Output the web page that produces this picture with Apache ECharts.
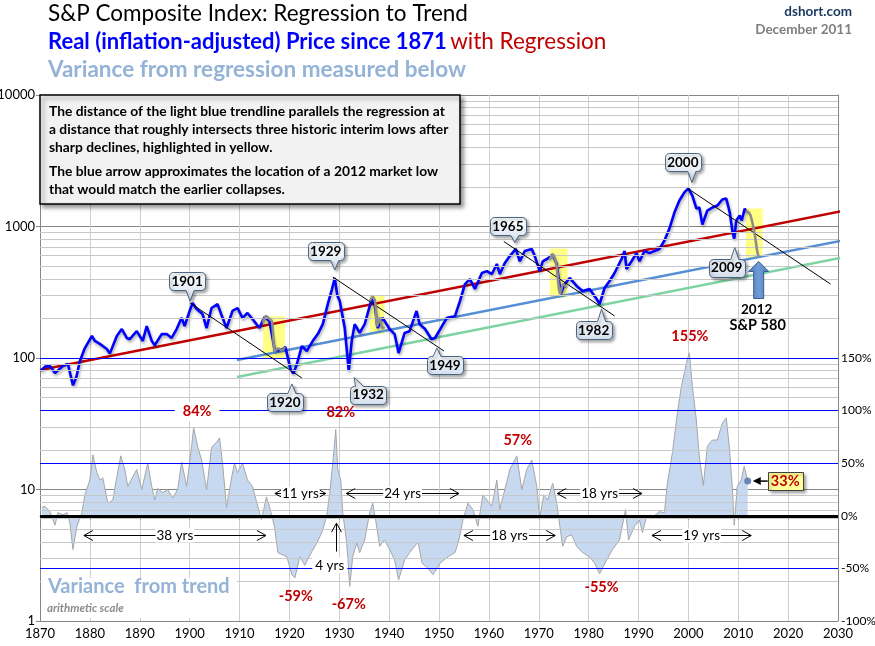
<!DOCTYPE html>
<html>
<head>
<meta charset="utf-8">
<script src="https://cdn.jsdelivr.net/npm/echarts@6/dist/echarts.min.js"></script>
<style>
html, body { margin: 0; padding: 0; background: #fff; }
#chart { width: 875px; height: 646px; }
</style>
</head>
<body>
<div id="chart"></div>
<script>
// real price (log scale, left axis)
const priceYears = [1870.2, 1871, 1872, 1873, 1874.6, 1875.6, 1876.6, 1877.3, 1878, 1879, 1880.4, 1881, 1882, 1883.4, 1884, 1885.4, 1886.4, 1887.4, 1888, 1889.4,
  1890.6, 1891.4, 1892.4, 1893, 1894.4, 1895.4, 1896.4, 1897.4, 1898.4, 1899, 1900, 1900.6, 1901.4, 1902.6, 1903.4, 1904.4, 1905.6, 1906.6, 1907.4, 1908.6,
  1909.6, 1910.6, 1911.6, 1912.6, 1914, 1915, 1916, 1917.1, 1918.7, 1919.2, 1920.2, 1920.8, 1921.5, 1922.5, 1923.5, 1924.7, 1925.7, 1926.7, 1927.7, 1928.5,
  1929.1, 1929.6, 1930.1, 1931.1, 1931.9, 1932.5, 1933.1, 1934.1, 1935.1, 1936.5, 1937.1, 1937.7, 1938.7, 1940.1, 1941.1, 1941.9, 1943.1, 1944.1, 1945.5, 1946.1,
  1947.2, 1948.5, 1949.2, 1950.6, 1951.6, 1953.2, 1954.2, 1955.2, 1956.2, 1957.2, 1958.6, 1959.6, 1960.6, 1961.6, 1962.2, 1963.2, 1964.2, 1965.4, 1966.2, 1967.2,
  1968.6, 1969.2, 1970.2, 1970.8, 1971.8, 1972.8, 1973.6, 1974.4, 1975.2, 1976.2, 1977.6, 1978.8, 1980.2, 1981.6, 1982.2, 1983.2, 1984.2, 1985.2, 1986.6, 1987.2,
  1987.6, 1988.6, 1989.6, 1990.2, 1991.2, 1992.2, 1993.2, 1994.2, 1995.2, 1996.2, 1997.2, 1998.2, 1999.2, 2000, 2000.8, 2001.6, 2002.2, 2002.8, 2003.8, 2004.8,
  2005.8, 2006.8, 2007.6, 2008.3, 2008.9, 2009.2, 2009.6, 2010.3, 2010.7, 2011.3, 2011.7];
const priceValues = [80, 86, 87, 77, 87, 90, 62, 72, 95, 119, 147, 135, 128, 117, 108, 147, 166, 142, 139, 160,
  135, 175, 135, 125, 152, 152, 142, 166, 202, 175, 228, 262, 236, 216, 169, 240, 257, 202, 169, 228,
  240, 202, 220, 198, 169, 205, 191, 113, 117, 121, 83, 76, 90, 123, 113, 135, 152, 181, 257, 330,
  406, 300, 271, 169, 80, 135, 181, 155, 181, 281, 257, 169, 202, 166, 152, 109, 155, 160, 228, 181,
  166, 139, 142, 175, 202, 208, 271, 365, 398, 335, 443, 458, 435, 519, 435, 527, 596, 675, 544, 651,
  675, 596, 458, 544, 571, 611, 519, 307, 365, 406, 353, 323, 335, 281, 257, 341, 385, 443, 566, 651,
  475, 544, 627, 544, 651, 627, 651, 675, 783, 965, 1277, 1576, 1816, 1951, 1720, 1371, 1393, 1035, 1323, 1393,
  1443, 1604, 1630, 1277, 885, 810, 1111, 1212, 1111, 1371, 1277];

// variance from regression, percent (right axis)
const varianceYears = [1870.4, 1871, 1872, 1873, 1873.6, 1874.6, 1875.4, 1876, 1876.6, 1877.4, 1878.4, 1879, 1880, 1880.6, 1881.4, 1882, 1882.6, 1883.6, 1884.6, 1885.4,
  1886.2, 1887, 1887.6, 1888.6, 1889.4, 1890.4, 1891.6, 1892.4, 1893, 1893.6, 1894.6, 1895.6, 1896.6, 1897.6, 1898.4, 1899.4, 1900.4, 1900.8, 1901.6, 1902.4,
  1903.4, 1904.4, 1905.4, 1906, 1906.6, 1907.4, 1908.4, 1909, 1909.6, 1910.6, 1911.6, 1912.6, 1913.6, 1914.4, 1915.4, 1916, 1917, 1917.7, 1919.5, 1920.5,
  1921.1, 1922.1, 1923.1, 1924.5, 1925.5, 1926.5, 1927.5, 1928.1, 1928.7, 1929.3, 1929.7, 1930.3, 1930.7, 1931.5, 1932.1, 1932.7, 1933.5, 1934.1, 1935.1, 1936.1,
  1936.7, 1937.3, 1938.1, 1939.1, 1940.1, 1941.1, 1941.9, 1943.1, 1944.1, 1945.8, 1946.6, 1947.6, 1948.8, 1950.2, 1951.8, 1953.2, 1954, 1954.8, 1955.8, 1956.8,
  1957.8, 1958.8, 1959.6, 1960.6, 1961.6, 1962.2, 1963.2, 1964.2, 1965.6, 1966.6, 1967.6, 1968.6, 1969.6, 1970.2, 1971, 1971.8, 1972.8, 1973.6, 1974.2, 1974.8,
  1975.6, 1976.6, 1977.6, 1978.8, 1980.2, 1981.2, 1982.2, 1983.6, 1984.8, 1986.2, 1987.4, 1988, 1989.2, 1990.2, 1990.8, 1991.6, 1992.9, 1994.2, 1995.2, 1995.8,
  1996.8, 1997.8, 1998.6, 1999.6, 2000.2, 2000.8, 2001.6, 2002.2, 2003, 2003.8, 2004.8, 2005.8, 2006.8, 2007.6, 2008.2, 2008.8, 2009.2, 2009.8, 2010.6, 2011.2, 2011.9];
const variancePct = [8, 9, 4, -9, 3, 1, 3, -7, -32, -10, 3, 20, 34, 58, 41, 34, 36, 12, 15, 37,
  57, 44, 28, 37, 44, 25, 50, 28, 15, 26, 22, 25, 17, 25, 51, 28, 66, 84, 66, 53,
  25, 65, 70, 74, 50, 8, 36, 50, 41, 50, 34, 28, 10, -4, 18, 9, -10, -35, -39, -56,
  -59, -39, -47, -34, -26, -16, 0, 22, 50, 82, 44, 34, 3, -26, -67, -39, -26, -35, -23, 3,
  12, -4, -29, -23, -32, -42, -61, -42, -35, -25, -45, -49, -56, -45, -39, -35, -23, -4, 12, 6,
  -10, 20, 15, 9, 34, 6, 25, 44, 57, 25, 44, 53, 28, -2, 20, 15, 31, 12, -9, -29,
  -20, -18, -29, -35, -39, -45, -55, -42, -32, -23, 6, -23, -10, -4, -16, -1, -1, 4, 3, 31,
  60, 98, 123, 145, 155, 123, 91, 56, 29, 66, 72, 72, 88, 93, 66, 28, -9, 28, 34, 47, 33];

// trend lines
const regressionLine = [[1870, 81], [2030.9, 1310]];
const upperSupportLine = [[1909.5, 96.5], [2030.9, 783]];
const lowerSupportLine = [[1909.5, 71.7], [2030.9, 581]];
const declineLines = [
  [[1900.1, 262], [1922.5, 70.5]],
  [[1928.7, 413], [1951.0, 113]],
  [[1963.0, 769], [1985.2, 209]],
  [[1999.9, 1945], [2028.5, 365]]
];

// collapses drawn grey inside the yellow zones
const grayCollapse1916 = [[1914.7, 185], [1915.3, 208], [1915.9, 200], [1916.5, 190], [1917.1, 113], [1917.8, 118], [1918.5, 115], [1919.1, 121]];
const grayCollapse1937 = [[1936.1, 270], [1936.7, 292], [1937.2, 268], [1937.6, 175], [1938.1, 200], [1938.7, 168], [1939.1, 172]];
const grayCollapse1973 = [[1972.2, 560], [1972.8, 611], [1973.5, 520], [1974.3, 310], [1974.9, 365], [1975.6, 340]];
const grayProjection2012 = [[2011.4, 1300], [2011.9, 1290], [2012.4, 1230], [2012.9, 1040], [2013.4, 830], [2013.8, 650], [2014.1, 585]];

const yellowZones = [
  [[1914.7, 208], [1919.1, 100]],
  [[1936.1, 296], [1939.1, 152]],
  [[1972.2, 680], [1975.8, 288]],
  [[2011.5, 1371], [2014.9, 581]]
];

// callouts: label, tip [year, price], box centre offset in px
const yearCallouts = [
  ['1901', [1900.1, 271], -3, -20],
  ['1929', [1929.1, 467], -9, -19],
  ['1920', [1920.5, 63.5], -7, 18],
  ['1932', [1933.0, 71], 14, 17],
  ['1949', [1949.6, 119], 8, 17],
  ['1965', [1965.2, 756], -7, -16],
  ['1982', [1982.6, 236], -8, 21],
  ['2000', [2000.7, 2161], -9, -20],
  ['2009', [2009.3, 692], -8, 20]
];

const spanArrows = [
  [1878.8, 1915.3, -18, '38 yrs'],
  [1917.1, 1927.3, 22, '11 yrs'],
  [1931.4, 1954.0, 22, '24 yrs'],
  [1955.0, 1973.3, -18, '18 yrs'],
  [1973.7, 1990.7, 22, '18 yrs'],
  [1992.7, 2012.6, -18, '19 yrs']
];

const extremeLabels = [
  ['84%', 1901.5, 99],
  ['82%', 1930.3, 98],
  ['57%', 1965.8, 72],
  ['155%', 2000.3, 171],
  ['-59%', 1921.3, -77],
  ['-67%', 1931.9, -84],
  ['-55%', 1982.6, -68]
];

const lastVariance = [2011.9, 33];
const pctLevels = [-50, 50, 100, 150];
const projectedLow = [2014.1, 542];

const FONT = 'Lato, "Liberation Sans", sans-serif';

function zip(xs, ys) {
  return xs.map((x, i) => [x, ys[i]]);
}

// minor log gridlines 2..9 in each decade
const minorLogLines = [];
[1, 10, 100, 1000].forEach(d => {
  for (let k = 2; k <= 9; k++) minorLogLines.push({ yAxis: d * k });
});

const plainLine = (name, data, color, width, z) => ({
  name: name,
  type: 'line',
  data: data,
  showSymbol: false,
  symbol: 'none',
  clip: false,
  silent: true,
  z: z,
  lineStyle: { color: color, width: width }
});

const series = [];

// gridlines for the log axis
series.push({
  type: 'line', data: [], yAxisIndex: 0, z: 0, silent: true,
  markLine: {
    silent: true, symbol: 'none', label: { show: false }, animation: false,
    lineStyle: { color: '#c8c8c8', width: 1, type: 'solid' },
    data: minorLogLines
  }
});
// blue percent levels behind the variance area
series.push({
  type: 'line', data: [], yAxisIndex: 1, z: 1, silent: true,
  markLine: {
    silent: true, symbol: 'none', label: { show: false }, animation: false,
    lineStyle: { color: '#0000ff', width: 1.2, type: 'solid' },
    data: pctLevels.map(v => ({ yAxis: v }))
  }
});
// variance area
series.push({
  name: 'variance', type: 'line', yAxisIndex: 1, z: 2, silent: true,
  data: zip(varianceYears, variancePct),
  showSymbol: false, symbol: 'none',
  lineStyle: { color: '#a6a6a6', width: 1 },
  areaStyle: { color: '#c6d9f1', opacity: 1, origin: 0 }
});
const varianceIndex = series.length - 1;
// zero line
series.push({
  type: 'line', data: [], yAxisIndex: 1, z: 3, silent: true,
  markLine: {
    silent: true, symbol: 'none', label: { show: false }, animation: false,
    lineStyle: { color: '#000000', width: 3, type: 'solid' },
    data: [{ yAxis: 0 }]
  }
});
// current variance dot
series.push({
  type: 'scatter', yAxisIndex: 1, z: 6, silent: true,
  data: [lastVariance], symbolSize: 7,
  itemStyle: { color: '#4f6fa8' }
});

// trend lines
series.push(plainLine('lower', lowerSupportLine, '#7dd3a2', 2.5, 3));
series.push(plainLine('upper', upperSupportLine, '#558ed5', 2.5, 3));
series.push(plainLine('regression', regressionLine, '#c00000', 2.5, 3));
declineLines.forEach(seg => series.push(plainLine('decline', seg, '#000000', 1, 6)));

// price
series.push({
  name: 'price', type: 'line', yAxisIndex: 0, z: 4, silent: true,
  data: zip(priceYears, priceValues),
  showSymbol: false, symbol: 'none',
  lineStyle: { color: '#0000ff', width: 2.6, shadowColor: 'rgba(0,0,0,0.35)', shadowBlur: 3, shadowOffsetX: 1, shadowOffsetY: 2 }
});
const priceIndex = series.length - 1;

// yellow highlights
series.push({
  type: 'line', data: [], yAxisIndex: 0, z: 5, silent: true,
  markArea: {
    silent: true, animation: false,
    itemStyle: { color: 'rgba(255,255,60,0.62)' },
    data: yellowZones.map(z => [{ coord: z[0] }, { coord: z[1] }])
  }
});

[grayCollapse1916, grayCollapse1937, grayCollapse1973, grayProjection2012].forEach(seg => {
  const s = plainLine('gray', seg, '#8c8c8c', 2.6, 6);
  s.smooth = 0.3;
  series.push(s);
});

const option = {
  animation: false,
  backgroundColor: '#ffffff',
  textStyle: { fontFamily: FONT },
  grid: { left: 40, right: 37, top: 95, bottom: 25, containLabel: false, outerBoundsMode: 'none' },
  xAxis: {
    type: 'value', min: 1870, max: 2030, interval: 10,
    axisLine: { show: true, lineStyle: { color: '#868686' } },
    axisTick: { show: true, length: 4, lineStyle: { color: '#868686' } },
    axisLabel: { color: '#000', fontSize: 13, fontFamily: FONT, margin: 6, formatter: v => String(v) },
    splitLine: { show: true, lineStyle: { color: '#cfcfcf', width: 1 } }
  },
  yAxis: [
    {
      type: 'log', logBase: 10, min: 1, max: 10000,
      axisLine: { show: true, lineStyle: { color: '#868686' } },
      axisTick: { show: true, length: 4, lineStyle: { color: '#868686' } },
      axisLabel: { color: '#000', fontSize: 13, fontFamily: FONT, margin: 5, formatter: v => String(Math.round(v)) },
      splitLine: { show: true, lineStyle: { color: '#868686', width: 1 } },
      minorTick: { show: false }, minorSplitLine: { show: false }
    },
    {
      type: 'value', min: -100, max: 400, interval: 50, position: 'right',
      axisLine: { show: true, lineStyle: { color: '#868686' } },
      axisTick: { show: false },
      axisLabel: { color: '#000', fontSize: 12, fontFamily: FONT, margin: 3, formatter: v => (v <= 150 ? v + '%' : '') },
      splitLine: { show: false }
    }
  ],
  series: series
};

const chart = echarts.init(document.getElementById('chart'));
chart.setOption(option);

const toPx = p => chart.convertToPixel({ seriesIndex: priceIndex }, p);
const toPxPct = p => chart.convertToPixel({ seriesIndex: varianceIndex }, p);

const g = [];

function txt(x, y, text, font, fill, align, extra) {
  g.push({
    type: 'text', x: x, y: y, silent: true, z: 100,
    style: Object.assign({ text: text, font: font, fill: fill, align: align || 'left', verticalAlign: 'middle' }, extra || {})
  });
}

// titles
txt(48, 14, 'S&P Composite Index: Regression to Trend', '22.5px ' + FONT, '#000');
g.push({
  type: 'text', x: 48, y: 42, silent: true, z: 100,
  style: {
    text: '{a|Real (inflation-adjusted) Price since 1871} {b|with Regression}',
    verticalAlign: 'middle',
    rich: {
      a: { font: 'bold 22px ' + FONT, fill: '#0000ff' },
      b: { font: '22.5px ' + FONT, fill: '#c00000' }
    }
  }
});
txt(48, 70, 'Variance from regression measured below', 'bold 22.5px ' + FONT, '#95b3d7');
txt(852, 12, 'dshort.com', 'bold 13.5px ' + FONT, '#17375e', 'right');
txt(852, 30, 'December 2011', 'bold 13.5px ' + FONT, '#7f7f7f', 'right');

// explanation box
g.push({
  type: 'rect', silent: true, z: 90,
  shape: { x: 40, y: 95, width: 420, height: 109 },
  style: { fill: '#f2f2f2', stroke: '#000', lineWidth: 1.5, shadowBlur: 4, shadowOffsetX: 3, shadowOffsetY: 3, shadowColor: 'rgba(0,0,0,0.4)' }
});
g.push({
  type: 'text', x: 49, y: 103, silent: true, z: 100,
  style: {
    text: 'The distance of the light blue trendline parallels the regression at\na distance that roughly intersects three historic interim lows after\nsharp declines, highlighted in yellow.',
    font: 'bold 13.8px ' + FONT, fill: '#000', lineHeight: 18, verticalAlign: 'top'
  }
});
g.push({
  type: 'text', x: 49, y: 163, silent: true, z: 100,
  style: {
    text: 'The blue arrow approximates the location of a 2012 market low\nthat would match the earlier collapses.',
    font: 'bold 13.8px ' + FONT, fill: '#000', lineHeight: 18, verticalAlign: 'top'
  }
});

// year callouts: rounded box with a pointer, as a polygon
function roundCorner(pts, cx, cy, r, a0) {
  for (let i = 0; i <= 4; i++) {
    const a = (a0 + i * 22.5) * Math.PI / 180;
    pts.push([cx + r * Math.cos(a), cy + r * Math.sin(a)]);
  }
}
function bubblePoints(x0, y0, w, h, tx, ty, down) {
  const r = 4;
  const b1 = Math.max(x0 + r + 1, Math.min(tx - 4, x0 + w - r - 9));
  const b2 = b1 + 8;
  const x1 = x0 + w, y1 = y0 + h;
  const pts = [];
  roundCorner(pts, x0 + r, y0 + r, r, 180);
  if (!down) { pts.push([b1, y0]); pts.push([tx, ty]); pts.push([b2, y0]); }
  roundCorner(pts, x1 - r, y0 + r, r, 270);
  roundCorner(pts, x1 - r, y1 - r, r, 0);
  if (down) { pts.push([b2, y1]); pts.push([tx, ty]); pts.push([b1, y1]); }
  roundCorner(pts, x0 + r, y1 - r, r, 90);
  return pts;
}

yearCallouts.forEach(c => {
  const tip = toPx(c[1]);
  const cx = tip[0] + c[2], cy = tip[1] + c[3];
  const w = 36, h = 18;
  const x0 = Math.round(cx - w / 2) + 0.5, y0 = Math.round(cy - h / 2) + 0.5;
  g.push({
    type: 'polygon', silent: true, z: 95,
    shape: { points: bubblePoints(x0, y0, w, h, tip[0], tip[1], c[3] < 0) },
    style: {
      fill: new echarts.graphic.LinearGradient(0, 0, 0, 1, [{ offset: 0, color: '#ffffff' }, { offset: 1, color: '#d5e0ee' }]),
      stroke: '#4a6582', lineWidth: 1, shadowBlur: 3, shadowOffsetX: 2, shadowOffsetY: 2, shadowColor: 'rgba(0,0,0,0.35)'
    }
  });
  txt(cx, cy + 0.5, c[0], 'bold 13.5px ' + FONT, '#000', 'center');
});

// span arrows
function chevron(x, y, dir) {
  g.push({
    type: 'polyline', silent: true, z: 96,
    shape: { points: [[x + dir * 9, y - 5], [x, y], [x + dir * 9, y + 5]] },
    style: { stroke: '#000', lineWidth: 1, fill: null }
  });
}
spanArrows.forEach(a => {
  const p1 = toPxPct([a[0], a[2]]), p2 = toPxPct([a[1], a[2]]);
  const y = Math.round(p1[1]) + 0.5;
  g.push({ type: 'line', silent: true, z: 96, shape: { x1: p1[0], y1: y, x2: p2[0], y2: y }, style: { stroke: '#000', lineWidth: 1 } });
  chevron(p1[0], y, 1);
  chevron(p2[0], y, -1);
  txt((p1[0] + p2[0]) / 2, y, a[3], '13.5px ' + FONT, '#000', 'center', { backgroundColor: '#fff', padding: [0, 1] });
});
// 4 yrs vertical arrow
{
  const top = toPxPct([1929.3, -7]), bot = toPxPct([1929.3, -34]);
  const x = Math.round(top[0]) + 0.5;
  g.push({ type: 'line', silent: true, z: 96, shape: { x1: x, y1: top[1], x2: x, y2: bot[1] }, style: { stroke: '#000', lineWidth: 1 } });
  g.push({ type: 'polyline', silent: true, z: 96, shape: { points: [[x - 5, top[1] + 9], [x, top[1]], [x + 5, top[1] + 9]] }, style: { stroke: '#000', lineWidth: 1, fill: null } });
  const lp = toPxPct([1928.1, -47]);
  txt(lp[0], lp[1], '4 yrs', '13.5px ' + FONT, '#000', 'center', { backgroundColor: '#fff', padding: [1, 3] });
}

// extreme variance labels
extremeLabels.forEach(l => {
  const p = toPxPct([l[1], l[2]]);
  const extra = l[0] === '84%' ? { backgroundColor: '#fff', padding: [2, 8] } : {};
  txt(p[0], p[1], l[0], 'bold 14.5px ' + FONT, '#c00000', 'center', extra);
});

// 33% callout
{
  const d = toPxPct(lastVariance);
  const bx = d[0] + 20, by = d[1] - 9;
  g.push({ type: 'line', silent: true, z: 96, shape: { x1: d[0] + 12, y1: d[1], x2: bx, y2: d[1] }, style: { stroke: '#000', lineWidth: 1.5 } });
  g.push({ type: 'polygon', silent: true, z: 96, shape: { points: [[d[0] + 5, d[1]], [d[0] + 13, d[1] - 4], [d[0] + 13, d[1] + 4]] }, style: { fill: '#000' } });
  g.push({
    type: 'rect', silent: true, z: 96,
    shape: { x: Math.round(bx) + 0.5, y: Math.round(by) + 0.5, width: 35, height: 18 },
    style: { fill: '#ffff99', stroke: '#404040', lineWidth: 1, shadowBlur: 3, shadowOffsetX: 2, shadowOffsetY: 2, shadowColor: 'rgba(0,0,0,0.35)' }
  });
  txt(bx + 17.5, d[1] + 0.5, '33%', 'bold 14.5px ' + FONT, '#c00000', 'center');
}

// 2012 projected low arrow
{
  const t = toPx(projectedLow);
  const x = t[0], y = t[1];
  g.push({
    type: 'polygon', silent: true, z: 96,
    shape: { points: [[x, y], [x + 10, y + 10], [x + 5, y + 10], [x + 5, y + 37], [x - 5, y + 37], [x - 5, y + 10], [x - 10, y + 10]] },
    style: {
      fill: new echarts.graphic.LinearGradient(0, 0, 1, 0, [{ offset: 0, color: '#4a7ebb' }, { offset: 0.5, color: '#6f9bd6' }, { offset: 1, color: '#4a7ebb' }]),
      stroke: '#385d8a', lineWidth: 1
    }
  });
  txt(x - 2, y + 48, '2012', 'bold 13.5px ' + FONT, '#000', 'center');
  txt(x - 1, y + 64, 'S&P 580', 'bold 14.5px ' + FONT, '#000', 'center');
}

// lower-left caption
g.push({ type: 'rect', silent: true, z: 97, shape: { x: 41, y: 578, width: 196, height: 40 }, style: { fill: '#fff' } });
txt(48, 587, 'Variance  from trend', 'bold 20px ' + FONT, '#95b3d7');
txt(47, 608, 'arithmetic scale', 'italic bold 11.5px ' + FONT, '#8c8c8c');

chart.setOption({ graphic: { elements: g } });
</script>
</body>
</html>
